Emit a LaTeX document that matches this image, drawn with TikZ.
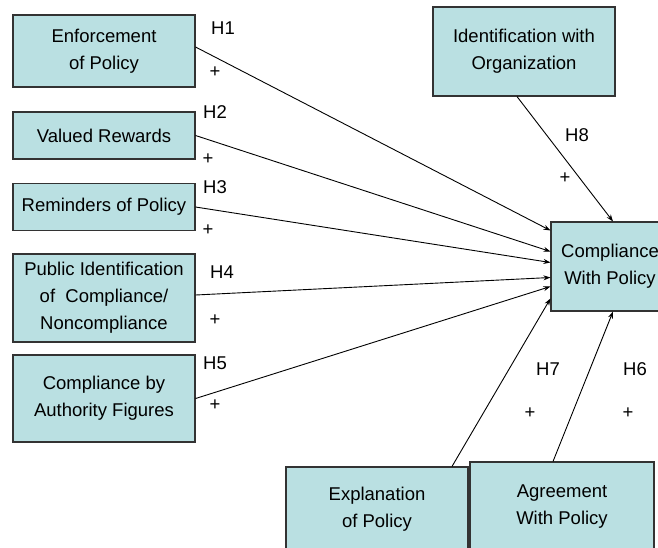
\documentclass[tikz,border=0pt]{standalone}
\usepackage{fontspec}
\setmainfont{Liberation Sans}
\usetikzlibrary{arrows.meta}
\definecolor{boxfill}{RGB}{186,224,226}
\tikzset{
  factor/.style={draw=black!80,line width=1.1pt,fill=boxfill,align=center,inner sep=0pt,
    font=\fontsize{18.5}{27}\selectfont},
  link/.style={-{Stealth[length=7pt,width=5pt]},line width=0.9pt,black},
  hyp/.style={font=\fontsize{18.5}{22}\selectfont,inner sep=0pt}
}
\begin{document}
\begin{tikzpicture}[x=1pt,y=-1pt]
\clip (0,0) rectangle (658,547);
\fill[white] (0,0) rectangle (658,547);
% antecedents on the left
\node[factor,minimum width=182pt,minimum height=72pt] (enf) at (104,51) {Enforcement\\of Policy};
\node[factor,minimum width=182pt,minimum height=47pt] (rew) at (104,135.5) {Valued Rewards};
\node[factor,minimum width=182pt,minimum height=47pt] (rem) at (104,207) {Reminders of Policy};
\node[factor,minimum width=182pt,minimum height=88pt] (pub) at (104,298) {Public Identification\\of~ Compliance/\\Noncompliance};
\node[factor,minimum width=182pt,minimum height=87pt] (aut) at (104,398.5) {Compliance by\\Authority Figures};
% other antecedents
\node[factor,minimum width=182pt,minimum height=89pt] (org) at (524,51.5) {Identification with\\Organization};
\node[factor,minimum width=182pt,minimum height=84pt] (exp) at (377,509) {Explanation\\of Policy};
\node[factor,minimum width=184pt,minimum height=90pt] (agr) at (562,507) {Agreement\\With Policy};
% outcome
\node[factor,minimum width=118pt,minimum height=89pt] (cwp) at (610,266.5) {Compliance\\With Policy};
% hypothesised paths
\draw[link] ([yshift=4pt]enf.east) -- ([yshift=36pt]cwp.west);
\draw[link] (rew.east) -- ([yshift=15pt]cwp.west);
\draw[link] (rem.east) -- ([yshift=4pt]cwp.west);
\draw[link] ([yshift=3pt]pub.east) -- ([yshift=-11pt]cwp.west);
\draw[link] (aut.east) -- ([yshift=-20pt]cwp.west);
\draw[link] ([xshift=75pt]exp.north) -- ([yshift=-32pt]cwp.west);
\draw[link] ([xshift=-9pt]agr.north) -- ([xshift=3pt]cwp.south);
\draw[link] ([xshift=-7pt]org.south) -- ([xshift=3pt]cwp.north);
% labels
\node[hyp] (h1) at (223,28) {H1};  \node[hyp] (p1) at (215,72) {+};
\node[hyp] (h2) at (215,112) {H2}; \node[hyp] (p2) at (208,159) {+};
\node[hyp] (h3) at (215,187) {H3}; \node[hyp] (p3) at (208,230) {+};
\node[hyp] (h4) at (222,272) {H4}; \node[hyp] (p4) at (215,320) {+};
\node[hyp] (h5) at (215,363) {H5}; \node[hyp] (p5) at (215,405) {+};
\node[hyp] (h8) at (577,135) {H8}; \node[hyp] (p8) at (565,178) {+};
\node[hyp] (h7) at (548,369) {H7}; \node[hyp] (p7) at (530,413) {+};
\node[hyp] (h6) at (635,369) {H6}; \node[hyp] (p6) at (628,413) {+};
\end{tikzpicture}
\end{document}
